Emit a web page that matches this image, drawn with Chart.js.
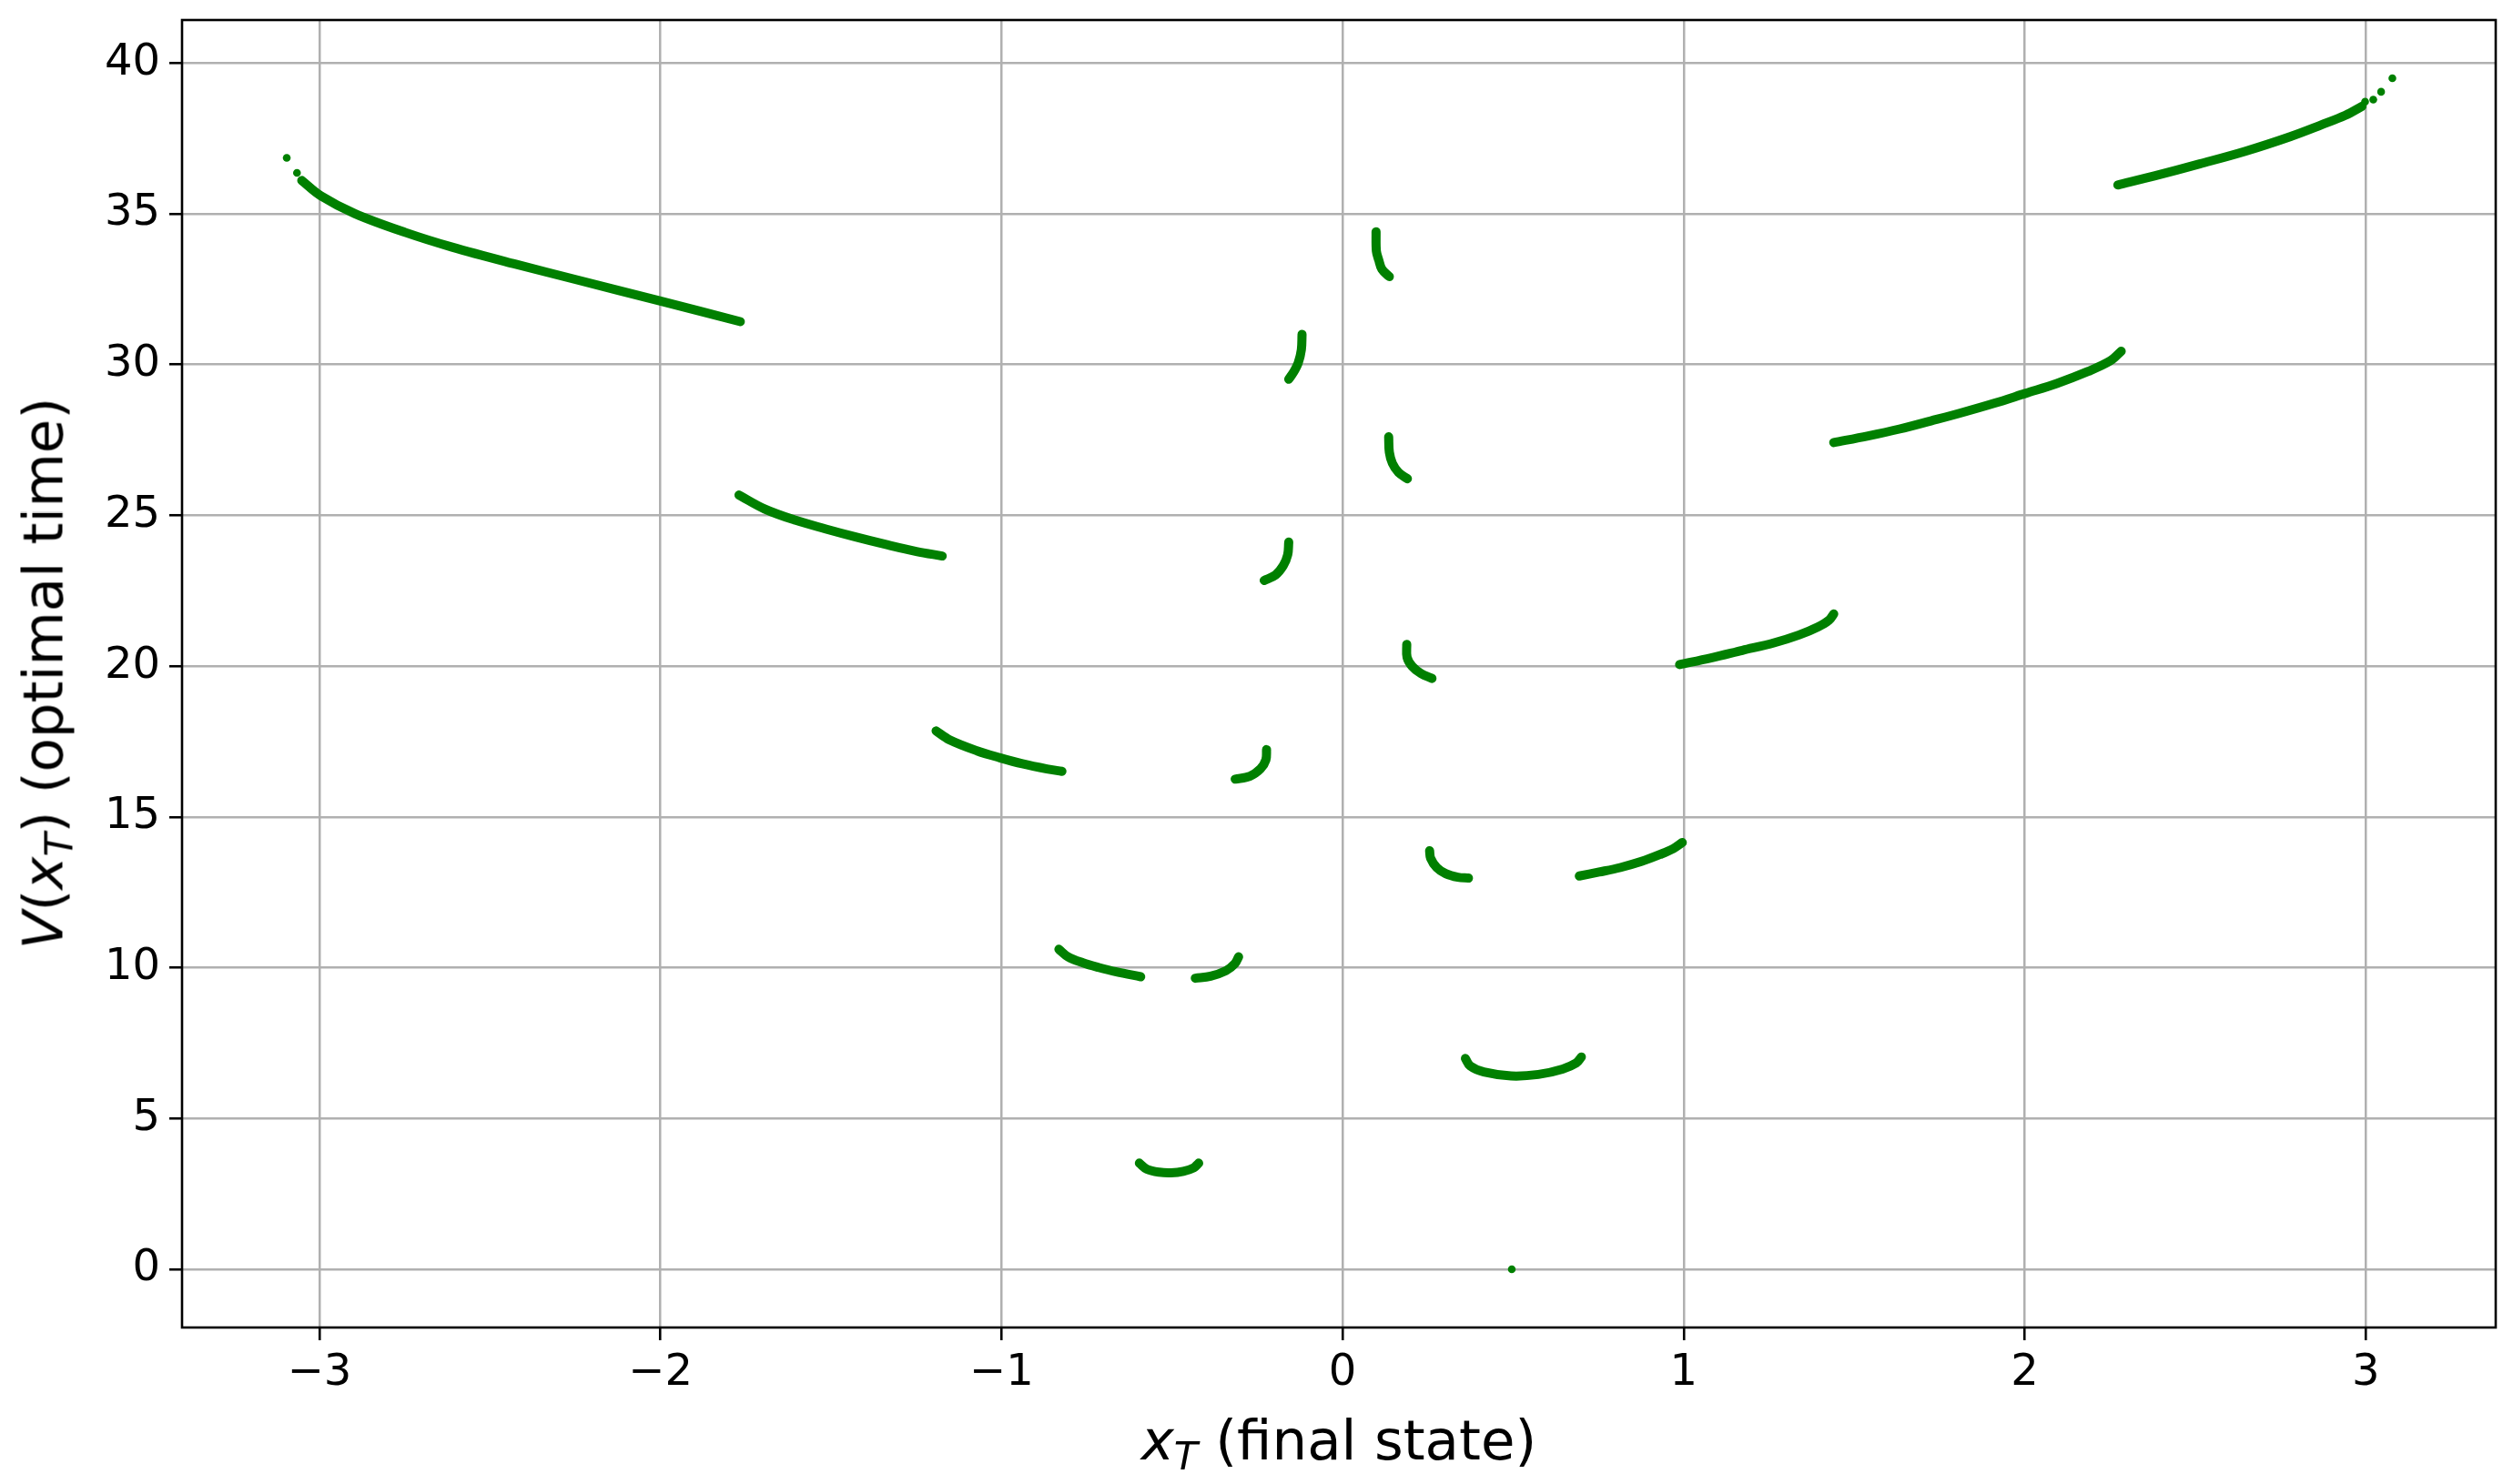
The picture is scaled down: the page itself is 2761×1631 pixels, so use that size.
<!DOCTYPE html>
<html>
<head>
<meta charset="utf-8">
<title>V(x_T) optimal time</title>
<script src="https://cdn.jsdelivr.net/npm/chart.js@4.4.1/dist/chart.umd.min.js"></script>
<style>
  html, body { margin: 0; padding: 0; background: #fff; }
  #wrap { position: relative; width: 2761px; height: 1631px; }
  #c { position: absolute; left: 0; top: 0; }
  .axis-title {
    position: absolute;
    font-family: 'DejaVu Sans', sans-serif;
    font-size: 61px;
    line-height: 60px;
    color: #000;
    white-space: nowrap;
    text-align: center;
  }
  .axis-title i { font-style: italic; }
  .axis-title sub { font-size: 70%; font-style: italic; vertical-align: -0.25em; line-height: 0; }
  #xTitle { left: 200px; width: 2542px; top: 1553px; }
  #yTitle { left: -671px; width: 1437px; top: 710px; transform: rotate(-90deg); }
</style>
</head>
<body>
<div id="wrap">
  <canvas id="c" width="2761" height="1631"></canvas>
  <div id="xTitle" class="axis-title"><i>x</i><sub>T</sub> (final state)</div>
  <div id="yTitle" class="axis-title"><i>V</i>(<i>x</i><sub>T</sub>) (optimal time)</div>
</div>
<script>
// tick positions
const xTicks = [-3, -2, -1, 0, 1, 2, 3];
const yTicks = [0, 5, 10, 15, 20, 25, 30, 35, 40];

// branches of V(x_T) as [x, y] pairs
const seg01 = [[-3.052, 36.10], [-2.997, 35.60], [-2.896, 35.00], [-2.749, 34.38], [-2.611, 33.89],
               [-2.427, 33.33], [-2.243, 32.80], [-2.000, 32.10], [-1.766, 31.42]];
const seg02 = [[-1.770, 25.67], [-1.695, 25.21], [-1.606, 24.84], [-1.517, 24.55], [-1.428, 24.28],
               [-1.339, 24.03], [-1.250, 23.80], [-1.174, 23.65]];
const seg03 = [[-1.192, 17.85], [-1.152, 17.55], [-1.072, 17.19], [-1.005, 16.96], [-0.939, 16.76],
               [-0.867, 16.59], [-0.823, 16.51]];
const seg04 = [[-0.832, 10.61], [-0.805, 10.36], [-0.761, 10.16], [-0.716, 10.01], [-0.663, 9.86], [-0.592, 9.70]];
const seg05 = [[-0.432, 9.65], [-0.387, 9.72], [-0.342, 9.90], [-0.316, 10.13], [-0.305, 10.36]];
const seg06 = [[-0.596, 3.52], [-0.574, 3.32], [-0.538, 3.22], [-0.503, 3.20], [-0.467, 3.25], [-0.436, 3.37], [-0.422, 3.52]];
const seg07 = [[-0.223, 17.23], [-0.225, 16.89], [-0.241, 16.59], [-0.272, 16.35], [-0.315, 16.25]];
const seg08 = [[-0.158, 24.11], [-0.161, 23.69], [-0.174, 23.33], [-0.197, 23.02], [-0.230, 22.84]];
const seg09 = [[-0.119, 31.00], [-0.121, 30.49], [-0.130, 30.06], [-0.143, 29.76], [-0.158, 29.51]];
const seg10 = [[0.098, 34.40], [0.099, 33.76], [0.106, 33.46], [0.115, 33.16], [0.137, 32.91]];
const seg11 = [[0.135, 27.60], [0.137, 27.09], [0.146, 26.72], [0.164, 26.42], [0.190, 26.21]];
const seg12 = [[0.188, 20.72], [0.189, 20.29], [0.204, 19.99], [0.230, 19.75], [0.262, 19.59]];
const seg13 = [[0.255, 13.88], [0.258, 13.63], [0.276, 13.32], [0.302, 13.12], [0.338, 13.00], [0.369, 12.97]];
const seg14 = [[0.360, 6.99], [0.374, 6.74], [0.414, 6.54], [0.494, 6.41], [0.574, 6.46], [0.645, 6.64],
               [0.685, 6.84], [0.700, 7.04]];
const seg15 = [[0.694, 13.04], [0.752, 13.17], [0.814, 13.32], [0.876, 13.52], [0.930, 13.75], [0.970, 13.95], [0.996, 14.15]];
const seg16 = [[0.988, 20.05], [1.080, 20.27], [1.172, 20.52], [1.265, 20.77], [1.338, 21.03], [1.394, 21.30],
               [1.426, 21.52], [1.440, 21.73]];
const seg17 = [[1.440, 27.41], [1.541, 27.63], [1.633, 27.86], [1.725, 28.13], [1.818, 28.41], [1.910, 28.71],
               [2.002, 29.04], [2.094, 29.37], [2.186, 29.77], [2.251, 30.12], [2.283, 30.44]];
const seg18 = [[2.273, 35.95], [2.380, 36.25], [2.513, 36.65], [2.647, 37.07], [2.780, 37.56], [2.869, 37.94],
               [2.940, 38.26], [2.989, 38.56]];

// isolated samples at the ends of the outer branches and the target point
const looseDots = [[-3.096, 36.85], [-3.066, 36.35], [2.998, 38.71], [3.022, 38.78], [3.045, 39.04], [3.078, 39.49]];
const targetDot = [[0.496, 0.0]];

const GREEN = '#008000';
const branches = [seg01, seg02, seg03, seg04, seg05, seg06, seg07, seg08, seg09,
                  seg10, seg11, seg12, seg13, seg14, seg15, seg16, seg17, seg18];

const toXY = arr => arr.map(p => ({ x: p[0], y: p[1] }));

const datasets = branches.map(seg => ({
    data: toXY(seg),
    showLine: true,
    borderColor: GREEN,
    borderWidth: 10,
    borderCapStyle: 'round',
    borderJoinStyle: 'round',
    tension: 0.35,
    pointRadius: 0
}));

datasets.push({
    data: toXY(looseDots.concat(targetDot)),
    showLine: false,
    pointRadius: 4.3,
    pointBackgroundColor: GREEN,
    pointBorderWidth: 0
});

const minusFmt = v => (v < 0 ? '\u2212' + Math.abs(v) : String(v));

// black frame around the plot area (matplotlib spines)
const frame = {
    id: 'frame',
    afterDatasetsDraw(chart) {
        const { ctx, chartArea: a } = chart;
        ctx.save();
        ctx.strokeStyle = '#000';
        ctx.lineWidth = 2.6;
        ctx.strokeRect(a.left, a.top, a.right - a.left, a.bottom - a.top);
        ctx.restore();
    }
};

const tickFont = { family: "'DejaVu Sans', sans-serif", size: 48 };
const gridStyle = { color: '#b0b0b0', lineWidth: 2.5, tickColor: '#000', tickWidth: 2.6, tickLength: 14 };

new Chart(document.getElementById('c').getContext('2d'), {
    type: 'scatter',
    data: { datasets: datasets },
    options: {
        responsive: false,
        animation: false,
        devicePixelRatio: 1,
        layout: { padding: { top: 22, right: 19, left: 0, bottom: 0 } },
        plugins: {
            legend: { display: false },
            tooltip: { enabled: false }
        },
        scales: {
            x: {
                type: 'linear',
                min: -3.403,
                max: 3.381,
                afterBuildTicks: s => { s.ticks = xTicks.map(v => ({ value: v })); },
                afterFit: s => { s.height = 172; s.paddingLeft = 0; s.paddingRight = 0; },
                grid: gridStyle,
                border: { display: false },
                ticks: { font: tickFont, color: '#000', padding: 8, maxRotation: 0, autoSkip: false, callback: minusFmt }
            },
            y: {
                type: 'linear',
                min: -1.93,
                max: 41.42,
                afterBuildTicks: s => { s.ticks = yTicks.map(v => ({ value: v })); },
                afterFit: s => { s.width = 200; s.paddingTop = 0; s.paddingBottom = 0; },
                grid: gridStyle,
                border: { display: false },
                ticks: { font: tickFont, color: '#000', padding: 10, autoSkip: false, callback: minusFmt }
            }
        }
    },
    plugins: [frame]
});
</script>
</body>
</html>
